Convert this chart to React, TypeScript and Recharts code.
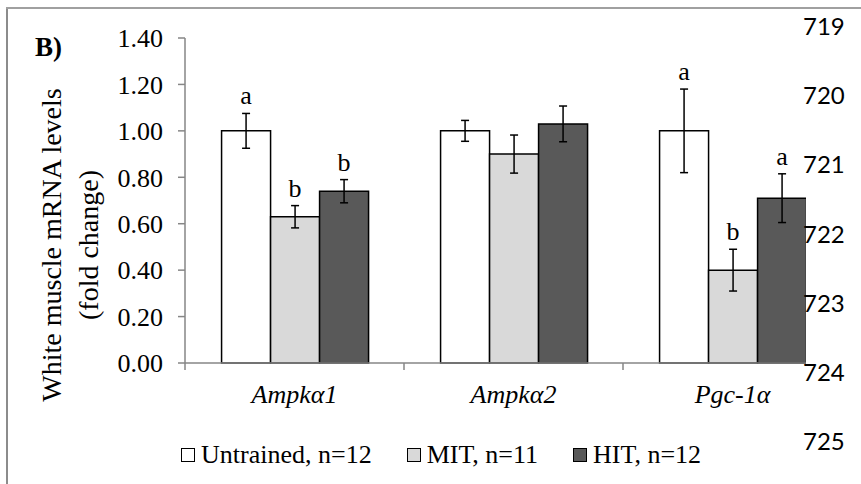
import React from 'react';
import { BarChart, Bar, XAxis, YAxis, ErrorBar, LabelList } from 'recharts';

const categories = ['Ampkα1', 'Ampkα2', 'Pgc-1α'];
const untrained = [1.0, 1.0, 1.0];
const untrainedErr = [0.075, 0.045, 0.18];
const mit = [0.63, 0.9, 0.4];
const mitErr = [0.048, 0.082, 0.09];
const hit = [0.74, 1.03, 0.71];
const hitErr = [0.05, 0.077, 0.105];
const untrainedLetters = ['a', '', 'a'];
const mitLetters = ['b', '', 'b'];
const hitLetters = ['b', '', 'a'];
const yTicks = [0, 0.2, 0.4, 0.6, 0.8, 1.0, 1.2, 1.4];
const seriesNames = ['Untrained, n=12', 'MIT, n=11', 'HIT, n=12'];
const seriesColors = ['#ffffff', '#d9d9d9', '#595959'];
const lineNumbers = ['719', '720', '721', '722', '723', '724', '725'];
const yLabelLines = ['White muscle mRNA levels', '(fold change)'];
const panelLabel = 'B)';

const data = categories.map((name, i) => ({
  name,
  u: untrained[i],
  uErr: untrainedErr[i],
  m: mit[i],
  mErr: mitErr[i],
  h: hit[i],
  hErr: hitErr[i],
}));

const W = 861;
const H = 484;
const PLOT_LEFT = 185;
const PLOT_RIGHT = 842;
const PLOT_TOP = 38;
const PLOT_BOTTOM = 363;
const Y_AXIS_W = 80;
const X_AXIS_H = 50;
const SERIF = '"Liberation Serif", "Times New Roman", serif';
const AXIS_GRAY = '#868686';

const letterLabel = (errs: number[], letters: string[]) => (props: any) => {
  const { x, y, width, height, index, value } = props;
  const letter = letters[index];
  if (!letter) return null;
  const errPx = value ? (errs[index] * height) / value : 0;
  return (
    <text
      x={x + width / 2}
      y={y - errPx - 9}
      textAnchor="middle"
      fontFamily={SERIF}
      fontSize={26}
      fill="#000"
    >
      {letter}
    </text>
  );
};

const XTick = (props: any) => {
  const { x, payload, index } = props;
  const half = (PLOT_RIGHT - PLOT_LEFT) / categories.length / 2;
  const axisY = PLOT_BOTTOM;
  return (
    <g>
      <line x1={x - half} y1={axisY} x2={x - half} y2={axisY + 7} stroke={AXIS_GRAY} strokeWidth={1.5} />
      {index === categories.length - 1 && (
        <line x1={x + half} y1={axisY} x2={x + half} y2={axisY + 7} stroke={AXIS_GRAY} strokeWidth={1.5} />
      )}
      <text
        x={x}
        y={axisY + 40}
        textAnchor="middle"
        fontFamily={SERIF}
        fontStyle="italic"
        fontSize={26}
        fill="#000"
      >
        {payload.value}
      </text>
    </g>
  );
};

export default function App() {
  return (
    <div style={{ position: 'absolute', left: 0, top: 0, width: W, height: H, background: '#fff', overflow: 'hidden' }}>
      <BarChart
        width={W}
        height={H}
        data={data}
        margin={{ top: PLOT_TOP, right: W - PLOT_RIGHT, bottom: H - PLOT_BOTTOM - X_AXIS_H, left: PLOT_LEFT - Y_AXIS_W }}
        barCategoryGap="16.7%"
        barGap={0}
      >
        <XAxis
          dataKey="name"
          height={X_AXIS_H}
          axisLine={{ stroke: AXIS_GRAY, strokeWidth: 1.5 }}
          tickLine={false}
          tick={<XTick />}
          interval={0}
        />
        <YAxis
          width={Y_AXIS_W}
          domain={[0, 1.4]}
          ticks={yTicks}
          tickFormatter={(v: number) => v.toFixed(2)}
          axisLine={{ stroke: AXIS_GRAY, strokeWidth: 1.5 }}
          tickLine={{ stroke: AXIS_GRAY, strokeWidth: 1.5 }}
          tickSize={7}
          tickMargin={15}
          tick={{ fontFamily: SERIF, fontSize: 26, fill: '#000' }}
          interval={0}
        />
        <Bar dataKey="u" fill={seriesColors[0]} stroke="#000" strokeWidth={1.5} isAnimationActive={false}>
          <ErrorBar dataKey="uErr" width={4} stroke="#000" strokeWidth={1.5} direction="y" />
          <LabelList dataKey="u" content={letterLabel(untrainedErr, untrainedLetters)} />
        </Bar>
        <Bar dataKey="m" fill={seriesColors[1]} stroke="#000" strokeWidth={1.5} isAnimationActive={false}>
          <ErrorBar dataKey="mErr" width={4} stroke="#000" strokeWidth={1.5} direction="y" />
          <LabelList dataKey="m" content={letterLabel(mitErr, mitLetters)} />
        </Bar>
        <Bar dataKey="h" fill={seriesColors[2]} stroke="#000" strokeWidth={1.5} isAnimationActive={false}>
          <ErrorBar dataKey="hErr" width={4} stroke="#000" strokeWidth={1.5} direction="y" />
          <LabelList dataKey="h" content={letterLabel(hitErr, hitLetters)} />
        </Bar>
      </BarChart>

      {/* white strip on the right where the line numbers sit */}
      <div style={{ position: 'absolute', left: 806, top: 10, width: 60, height: H, background: '#fff' }} />

      {/* y-axis title and panel label */}
      <svg style={{ position: 'absolute', left: 0, top: 0 }} width={140} height={H}>
        {yLabelLines.map((t, i) => (
          <text
            key={t}
            transform={`translate(${51 + i * 37},245) rotate(-90)`}
            textAnchor="middle"
            dominantBaseline="central"
            fontFamily={SERIF}
            fontSize={28}
            fill="#000"
          >
            {t}
          </text>
        ))}
        <text x={35} y={56} fontFamily={SERIF} fontWeight="bold" fontSize={27} fill="#000">
          {panelLabel}
        </text>
      </svg>

      {/* legend */}
      <div
        style={{
          position: 'absolute',
          left: 181,
          top: 438,
          height: 34,
          display: 'flex',
          alignItems: 'center',
          fontFamily: SERIF,
          fontSize: 26,
          color: '#000',
          whiteSpace: 'nowrap',
        }}
      >
        {seriesNames.map((n, i) => (
          <div key={n} style={{ display: 'flex', alignItems: 'center', marginRight: 35 }}>
            <span
              style={{
                display: 'inline-block',
                width: 12,
                height: 12,
                border: '1px solid #000',
                background: seriesColors[i],
                marginRight: 6,
              }}
            />
            <span>{n}</span>
          </div>
        ))}
      </div>

      {/* line numbers */}
      {lineNumbers.map((n, i) => (
        <div
          key={n}
          style={{
            position: 'absolute',
            left: 803,
            top: 26 + i * 69.2 - 15,
            height: 30,
            lineHeight: '30px',
            fontFamily: 'Lato, "Open Sans", sans-serif',
            fontSize: 24,
            color: '#000',
          }}
        >
          {n}
        </div>
      ))}

      {/* frame borders */}
      <div style={{ position: 'absolute', left: 6, top: 8, width: 2, height: H, background: '#8c8c8c' }} />
      <div style={{ position: 'absolute', left: 6, top: 7, width: W, height: 2, background: '#a0a0a0' }} />
    </div>
  );
}
